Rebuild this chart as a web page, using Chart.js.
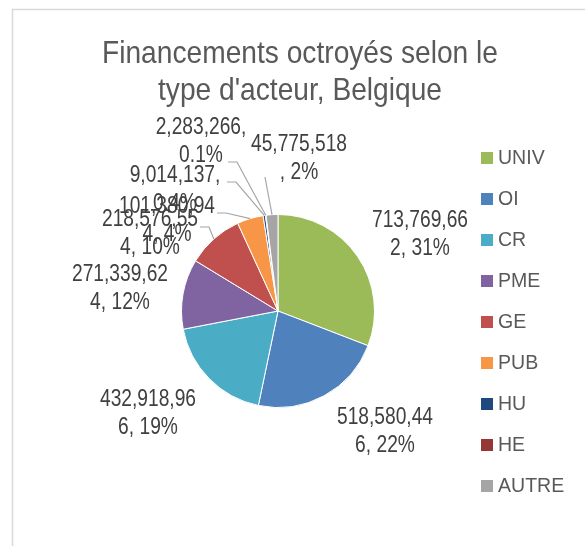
<!DOCTYPE html>
<html>
<head>
<meta charset="utf-8">
<script src="https://cdn.jsdelivr.net/npm/chart.js@4"></script>
<style>
    html, body { margin: 0; padding: 0; background: #fff; }
    #wrap { width: 585px; height: 546px; position: relative; }
</style>
</head>
<body>
<div id="wrap"><canvas id="pieCanvas" width="585" height="546"></canvas></div>
<script>
const categories = ["UNIV", "OI", "CR", "PME", "GE", "PUB", "HU", "HE", "AUTRE"];
const amounts = [713769662, 518580446, 432918966, 271339624, 218576554, 101380944, 9014137, 2283266, 45775518];
const shareLabels = ["31%", "22%", "19%", "12%", "10%", "4%", "0.4%", "0.1%", "2%"];
const titleLines = ["Financements octroyés selon le", "type d'acteur, Belgique"];

const colors = ["#9BBB59", "#4F81BD", "#4BACC6", "#8064A2", "#C0504D", "#F79646", "#1F497D", "#953735", "#A5A5A5"];

const FONT = '"Liberation Sans", Arial, sans-serif';

/* label centre, relative to pie centre (px) */
const labelOffset = [
    [142, -77], [107, 120], [-130, 102], [-158, -23], [-128, -78],
    [-111, -91], [-103, -122], [-77, -170], [21, -153]
];
/* leader line start, relative to label centre; null = no leader */
const leaderFrom = [null, null, null, null, [50, -6], [50, -7], [52, -7], [27, 21], [-34, 19]];

function labelText(i) {
    let s = amounts[i].toLocaleString("en-US") + ", " + shareLabels[i];
    return [s.slice(0, 10), s.slice(10).trim()];
}

/* the original uses a condensed face, so squeeze the text horizontally */
function narrowText(ctx, txt, x, y, sx) {
    ctx.save();
    ctx.translate(x, y);
    ctx.scale(sx, 1);
    ctx.fillText(txt, 0, 0);
    ctx.restore();
}

/* frame, title, legend, labels */
const decor = {
    id: "decor",
    beforeDraw(chart) {
        const ctx = chart.ctx;
        ctx.save();
        ctx.strokeStyle = "#d9d9d9";
        ctx.lineWidth = 1.5;
        ctx.strokeRect(12.5, 9.5, 700, 700);
        ctx.restore();
    },
    afterDraw(chart) {
        const ctx = chart.ctx;
        const arcs = chart.getDatasetMeta(0).data;
        const cx = arcs[0].x, cy = arcs[0].y;
        ctx.save();

        // title
        ctx.fillStyle = "#595959";
        ctx.font = "32px " + FONT;
        ctx.textAlign = "center";
        ctx.textBaseline = "alphabetic";
        narrowText(ctx, titleLines[0], 300, 63, 0.88);
        narrowText(ctx, titleLines[1], 300, 100, 0.88);

        // legend
        ctx.font = "21px " + FONT;
        ctx.textAlign = "left";
        ctx.textBaseline = "middle";
        categories.forEach((c, i) => {
            let y = 158 + i * 41;
            ctx.fillStyle = colors[i];
            ctx.fillRect(481, y - 6, 12, 12);
            ctx.fillStyle = "#595959";
            narrowText(ctx, c, 498, y, 0.93);
        });

        // leader lines
        ctx.strokeStyle = "#a6a6a6";
        ctx.lineWidth = 1.2;
        arcs.forEach((a, i) => {
            if (!leaderFrom[i]) return;
            let lx = cx + labelOffset[i][0], ly = cy + labelOffset[i][1];
            let sx = lx + leaderFrom[i][0], sy = ly + leaderFrom[i][1];
            let mid = (a.startAngle + a.endAngle) / 2;
            let ex = cx + Math.cos(mid) * a.outerRadius;
            let ey = cy + Math.sin(mid) * a.outerRadius;
            ctx.beginPath();
            ctx.moveTo(sx, sy);
            if (leaderFrom[i][0] > 0) ctx.lineTo(sx + 9, sy);
            ctx.lineTo(ex, ey);
            ctx.stroke();
        });

        // data labels
        ctx.fillStyle = "#404040";
        ctx.font = "24px " + FONT;
        ctx.textAlign = "center";
        arcs.forEach((a, i) => {
            let lx = cx + labelOffset[i][0], ly = cy + labelOffset[i][1];
            let lines = labelText(i);
            narrowText(ctx, lines[0], lx, ly - 14, 0.8);
            narrowText(ctx, lines[1], lx, ly + 14, 0.8);
        });
        ctx.restore();
    }
};

new Chart(document.getElementById("pieCanvas"), {
    type: "pie",
    data: {
        labels: categories,
        datasets: [{
            data: amounts,
            backgroundColor: colors,
            borderColor: "#ffffff",
            borderWidth: 1
        }]
    },
    options: {
        responsive: false,
        animation: false,
        layout: { padding: { left: 181, right: 210, top: 214, bottom: 138 } },
        plugins: {
            legend: { display: false },
            title: { display: false },
            tooltip: { enabled: false }
        }
    },
    plugins: [decor]
});
</script>
</body>
</html>
